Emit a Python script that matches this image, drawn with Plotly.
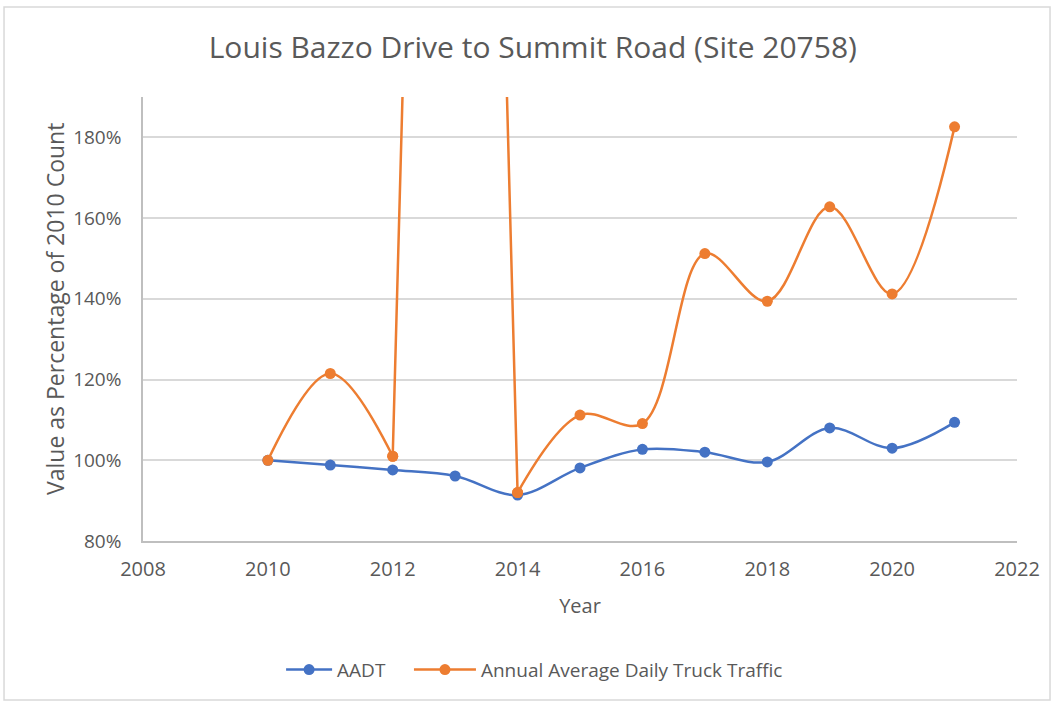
import plotly.graph_objects as go

years = [2010, 2011, 2012, 2013, 2014, 2015, 2016, 2017, 2018, 2019, 2020, 2021]
aadt = [1.000, 0.988, 0.976, 0.961, 0.914, 0.981, 1.027, 1.020, 0.996, 1.080, 1.030, 1.094]
truck = [1.000, 1.215, 1.010, 6.70, 0.920, 1.112, 1.091, 1.512, 1.394, 1.628, 1.412, 1.826]

BLUE = "#4472C4"
ORANGE = "#ED7D31"
FONT = "Open Sans"
GREY = "#595959"

fig = go.Figure()
fig.add_trace(go.Scatter(
    x=years, y=aadt, name="AADT", mode="lines+markers", legend="legend",
    line=dict(color=BLUE, width=2.5, shape="spline", smoothing=1.0),
    marker=dict(color=BLUE, size=11),
))

# Orange series drawn in three pieces (same data, sliced) so the off-scale 2013 spike stays narrow
segments = [(0, 3, "spline"), (2, 5, "linear"), (4, 12, "spline")]
for i, (a, b, shape) in enumerate(segments):
    fig.add_trace(go.Scatter(
        x=years[a:b], y=truck[a:b], name="Annual Average Daily Truck Traffic",
        mode="lines+markers", legend="legend2", legendgroup="truck", showlegend=(i == 0),
        line=dict(color=ORANGE, width=2.5, shape=shape, smoothing=1.0),
        marker=dict(color=ORANGE, size=11),
    ))

legend_common = dict(orientation="h", xanchor="left", y=-0.29, yanchor="middle",
                     font=dict(family=FONT, size=19, color=GREY),
                     bgcolor="rgba(0,0,0,0)")

fig.update_layout(
    width=1053, height=702,
    paper_bgcolor="white", plot_bgcolor="white",
    margin=dict(l=143, r=36, t=97, b=161),
    font=dict(family=FONT, color=GREY, size=18),
    title=dict(text="Louis Bazzo Drive to Summit Road (Site 20758)",
               x=0.506, xref="container", xanchor="center", y=0.932, yref="container",
               yanchor="middle",
               font=dict(family=FONT, size=30, color=GREY)),
    showlegend=True,
    legend=dict(x=0.158, itemwidth=46, **legend_common),
    legend2=dict(x=0.3043, itemwidth=62, **legend_common),
    xaxis=dict(range=[2008, 2022], dtick=2, tick0=2008, showgrid=False,
               showline=True, linecolor="#BFBFBF", linewidth=1.5,
               zeroline=False, ticks="", tickfont=dict(size=20, color=GREY),
               ticklabelstandoff=9,
               title=dict(text="Year", font=dict(size=20, color=GREY), standoff=18)),
    yaxis=dict(range=[0.8, 1.9], tickvals=[0.8, 1.0, 1.2, 1.4, 1.6, 1.8],
               tickformat=".0%", showgrid=True, gridcolor="#D9D9D9", gridwidth=1.5,
               showline=True, linecolor="#BFBFBF", linewidth=1.5,
               zeroline=False, ticks="", tickfont=dict(size=19, color=GREY),
               ticklabelstandoff=16),
    annotations=[dict(text="Value as Percentage of 2010 Count", textangle=-90,
                      xref="paper", yref="paper", x=-0.1007, y=0.5225,
                      xanchor="center", yanchor="middle", showarrow=False,
                      font=dict(family=FONT, size=23, color=GREY))],
)

fig.add_shape(type="rect", xref="paper", yref="paper",
              x0=-0.159, x1=1.0378, y0=-0.358, y1=1.2027,
              line=dict(color="#D9D9D9", width=1.5), layer="below")

fig.write_html("out.html", config={"displayModeBar": False},
               post_script="document.body.style.margin='0px';")
